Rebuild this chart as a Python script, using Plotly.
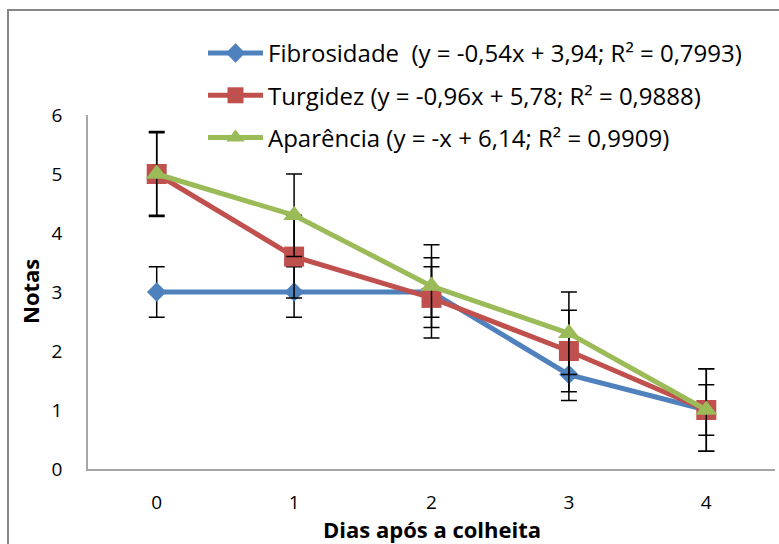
import plotly.graph_objects as go

dias = [0, 1, 2, 3, 4]
dias_labels = ["0", "1", "2", "3", "4"]

fibrosidade = [3.0, 3.0, 3.0, 1.6, 1.0]
fibrosidade_err = [0.43, 0.43, 0.43, 0.44, 0.43]

turgidez = [5.0, 3.6, 2.9, 2.0, 1.0]
turgidez_err = [0.72, 0.7, 0.68, 0.69, 0.7]

aparencia = [5.0, 4.3, 3.1, 2.3, 1.0]
aparencia_err = [0.7, 0.7, 0.7, 0.7, 0.7]

names = [
    "Fibrosidade  (y = -0,54x + 3,94; R² = 0,7993)",
    "Turgidez (y = -0,96x + 5,78; R² = 0,9888)",
    "Aparência (y = -x + 6,14; R² = 0,9909)",
]
x_title = "Dias após a colheita"
y_title = "Notas"

colors = ["#4F81BD", "#C0504D", "#9BBB59"]
symbols = ["diamond", "square", "triangle-up"]
sizes = [15, 20, 19]

FONT = "Open Sans"

fig = go.Figure()
for i, (vals, errs) in enumerate([(fibrosidade, fibrosidade_err),
                                  (turgidez, turgidez_err),
                                  (aparencia, aparencia_err)]):
    fig.add_trace(go.Scatter(
        x=dias, y=vals, name=names[i], legendgroup=f"g{i}",
        mode="lines+markers",
        line=dict(color=colors[i], width=5),
        marker=dict(symbol=symbols[i], size=sizes[i], color=colors[i]),
        error_y=dict(type="data", array=errs, visible=True,
                     color="black", thickness=1.5, width=8),
    ))

L, R, T, B = 88, 4, 115, 75
W, H = 779, 544
pw, ph = W - L - R, H - T - B

def px_x(p):
    return (p - L) / pw

def px_y(p):
    return (H - B - p) / ph

fig.update_layout(
    width=W, height=H,
    margin=dict(l=L, r=R, t=T, b=B),
    paper_bgcolor="white", plot_bgcolor="white",
    font=dict(family=FONT, size=19, color="black"),
    showlegend=True,
    legend=dict(
        x=px_x(203), y=px_y(31), xanchor="left", yanchor="top",
        bgcolor="rgba(0,0,0,0)", font=dict(family=FONT, size=24),
        tracegroupgap=8, itemwidth=55, traceorder="grouped",
    ),
    xaxis=dict(
        range=[-0.5, 4.5], tickmode="array", tickvals=dias, ticktext=dias_labels,
        showgrid=False, zeroline=False, showline=True, linecolor="#A6A6A6", linewidth=1.5,
        ticks="", ticklabelstandoff=15, automargin=False,
        tickfont=dict(family=FONT, size=19),
    ),
    yaxis=dict(
        range=[0, 6], dtick=1, showgrid=False, zeroline=False,
        showline=True, linecolor="#A6A6A6", linewidth=1.5,
        ticks="", ticklabelstandoff=20, automargin=False,
        tickfont=dict(family=FONT, size=19),
    ),
    annotations=[
        dict(text=f"<b>{x_title}</b>", xref="paper", yref="paper",
             x=0.5, y=px_y(529), xanchor="center", yanchor="middle",
             showarrow=False, font=dict(family=FONT, size=22)),
        dict(text=f"<b>{y_title}</b>", xref="paper", yref="paper",
             x=px_x(30), y=px_y(292), xanchor="center", yanchor="middle",
             textangle=-90, showarrow=False, font=dict(family=FONT, size=22)),
    ],
    shapes=[dict(type="rect", xref="paper", yref="paper",
                 x0=px_x(8), x1=px_x(W + 20), y0=px_y(H + 20), y1=px_y(10),
                 line=dict(color="#868686", width=2), fillcolor="rgba(0,0,0,0)",
                 layer="below")],
)

fig.write_html(
    "out.html",
    config={"displayModeBar": False},
    post_script="document.body.style.margin='0';document.body.style.padding='0';",
)
